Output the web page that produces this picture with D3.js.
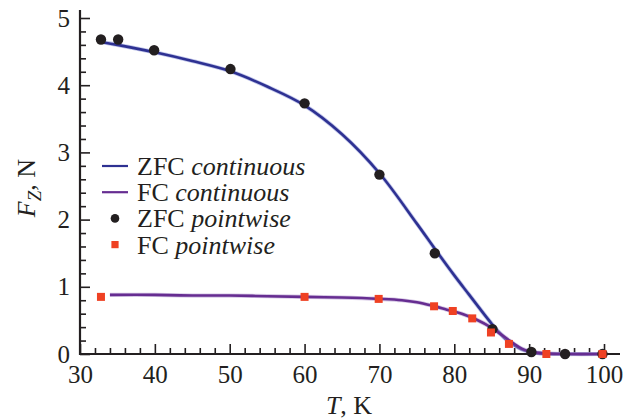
<!DOCTYPE html>
<html>
<head>
<meta charset="utf-8">
<script src="https://cdn.jsdelivr.net/npm/d3@7"></script>
<style>
  html, body { margin: 0; padding: 0; background: #fff; }
  svg { display: block; }
  svg text { font-family: "Liberation Serif", "DejaVu Serif", serif !important; fill: #231f20; }
</style>
</head>
<body>
<svg id="chart" width="632" height="419"></svg>
<script>
// Continuous ZFC measurement (temperature, K -> force, N)
const zfcContT = [33, 35, 40, 45, 50, 55, 60, 65, 70, 75, 77.5, 80, 82, 84, 85, 86, 87, 88, 89, 90, 91, 92, 94, 97, 100];
const zfcContF = [4.64, 4.60, 4.49, 4.36, 4.21, 3.98, 3.70, 3.27, 2.69, 1.94, 1.55, 1.17, 0.88, 0.59, 0.45, 0.32, 0.21, 0.13, 0.07, 0.035, 0.015, 0.005, 0.0, 0.0, 0.0];

// Continuous FC measurement
const fcContT = [34, 40, 45, 50, 55, 60, 65, 70, 73, 75, 77, 79, 81, 83, 85, 86, 87, 88, 89, 90, 91, 92, 95, 100];
const fcContF = [0.88, 0.88, 0.87, 0.87, 0.86, 0.85, 0.84, 0.82, 0.80, 0.77, 0.72, 0.66, 0.60, 0.51, 0.39, 0.31, 0.23, 0.15, 0.08, 0.04, 0.02, 0.01, 0.0, 0.0];

// Pointwise ZFC measurements
const zfcPtT = [32.8, 35.1, 39.9, 50.1, 60, 70, 77.4, 85.1, 90.3, 94.8, 99.8];
const zfcPtF = [4.68, 4.68, 4.52, 4.24, 3.73, 2.67, 1.50, 0.37, 0.03, 0.0, 0.0];

// Pointwise FC measurements
const fcPtT = [32.8, 60, 69.9, 77.3, 79.8, 82.4, 84.9, 87.3, 92.3, 99.8];
const fcPtF = [0.85, 0.85, 0.82, 0.71, 0.64, 0.53, 0.32, 0.15, 0.0, 0.0];

// Axis ticks
const xMajor = [30, 40, 50, 60, 70, 80, 90, 100];
const xMinor = d3.range(32, 100, 2).filter(v => v % 10 !== 0);
const yMajor = [0, 1, 2, 3, 4, 5];
const yMinor = d3.range(0.2, 5, 0.2).filter(v => Math.abs(v - Math.round(v)) > 1e-6);

const legendItems = [
  { name: "ZFC", mode: "continuous", kind: "line", color: "#2e3192" },
  { name: "FC", mode: "continuous", kind: "line", color: "#662d91" },
  { name: "ZFC", mode: "pointwise", kind: "dot", color: "#231f20" },
  { name: "FC", mode: "pointwise", kind: "square", color: "#ef4123" }
];

const svg = d3.select("#chart");
const ink = "#231f20";
const serif = "'Liberation Serif', 'DejaVu Serif', serif";

const x = d3.scaleLinear().domain([30, 100]).range([80, 604]);
const y = d3.scaleLinear().domain([0, 5]).range([354, 18]);

// Axes: ticks point inward
const gx = svg.append("g").attr("transform", `translate(0,${y(0)})`);
gx.call(d3.axisBottom(x).tickValues(xMinor).tickSize(-6).tickFormat(""));
gx.call(g => g.select(".domain").remove());
const gxMajor = svg.append("g").attr("transform", `translate(0,${y(0)})`)
  .call(d3.axisBottom(x).tickValues(xMajor).tickSize(-10).tickPadding(11).tickFormat(d3.format("d")));
gxMajor.select(".domain").remove();

const gy = svg.append("g").attr("transform", `translate(${x(30)},0)`);
gy.call(d3.axisLeft(y).tickValues(yMinor).tickSize(-6).tickFormat(""));
gy.call(g => g.select(".domain").remove());
const gyMajor = svg.append("g").attr("transform", `translate(${x(30)},0)`)
  .call(d3.axisLeft(y).tickValues(yMajor).tickSize(-10).tickPadding(10).tickFormat(d3.format("d")));
gyMajor.select(".domain").remove();

svg.selectAll("g").attr("font-family", null);
svg.selectAll(".tick line").attr("stroke", ink).attr("stroke-width", 1.6);
svg.selectAll(".tick text")
  .style("font-family", serif)
  .attr("font-size", 25)
  .attr("fill", ink);

// Axis lines
svg.append("line")
  .attr("x1", x(30)).attr("x2", x(100) + 16)
  .attr("y1", y(0)).attr("y2", y(0))
  .attr("stroke", ink).attr("stroke-width", 2.2);
svg.append("line")
  .attr("x1", x(30)).attr("x2", x(30))
  .attr("y1", y(0) + 1).attr("y2", y(5) - 8)
  .attr("stroke", ink).attr("stroke-width", 2.2);

// Continuous curves
const line = d3.line().x(d => x(d[0])).y(d => y(d[1])).curve(d3.curveCatmullRom.alpha(0.5));
const zfcCont = zfcContT.map((t, i) => [t, zfcContF[i]]);
const fcCont = fcContT.map((t, i) => [t, fcContF[i]]);

function drawCurve(data, color, halo) {
  svg.append("path").datum(data).attr("d", line)
    .attr("fill", "none").attr("stroke", halo).attr("stroke-width", 4.2)
    .attr("stroke-opacity", 0.55);
  svg.append("path").datum(data).attr("d", line)
    .attr("fill", "none").attr("stroke", color).attr("stroke-width", 2.6)
    .attr("stroke-linejoin", "round");
}
drawCurve(zfcCont, legendItems[0].color, "#8e97d8");
drawCurve(fcCont, legendItems[1].color, "#b59ad0");

// Pointwise markers
svg.append("g").selectAll("circle")
  .data(zfcPtT.map((t, i) => [t, zfcPtF[i]]))
  .join("circle")
  .attr("cx", d => x(d[0])).attr("cy", d => y(d[1])).attr("r", 5.2)
  .attr("fill", legendItems[2].color);

const sq = 8;
svg.append("g").selectAll("rect")
  .data(fcPtT.map((t, i) => [t, fcPtF[i]]))
  .join("rect")
  .attr("x", d => x(d[0]) - sq / 2).attr("y", d => y(d[1]) - sq / 2)
  .attr("width", sq).attr("height", sq)
  .attr("fill", legendItems[3].color);

// Legend
const legend = svg.append("g");
const rowY = i => 166 + i * 26.2;
legendItems.forEach((item, i) => {
  const cy = rowY(i);
  if (item.kind === "line") {
    legend.append("line").attr("x1", 102).attr("x2", 128).attr("y1", cy).attr("y2", cy)
      .attr("stroke", item.color).attr("stroke-width", 2.2);
  } else if (item.kind === "dot") {
    legend.append("circle").attr("cx", 115).attr("cy", cy).attr("r", 4.3).attr("fill", item.color);
  } else {
    legend.append("rect").attr("x", 115 - 3.6).attr("y", cy - 3.6).attr("width", 7.2).attr("height", 7.2)
      .attr("fill", item.color);
  }
  const t = legend.append("text").attr("x", 137).attr("y", cy + 9)
    .style("font-family", serif).attr("font-size", 26);
  t.append("tspan").text(item.name + " ");
  t.append("tspan").attr("font-style", "italic").text(item.mode);
});

// Axis titles
const yt = svg.append("text")
  .attr("transform", `translate(35,188) rotate(-90)`)
  .style("font-family", serif)
  .attr("text-anchor", "middle").attr("font-size", 26);
yt.append("tspan").attr("font-style", "italic").text("F");
yt.append("tspan").attr("font-style", "italic").attr("font-size", 19).attr("dy", 6).text("Z");
yt.append("tspan").attr("dy", -6).text(", N");

const xt = svg.append("text")
  .attr("x", 349).attr("y", 414)
  .style("font-family", serif)
  .attr("text-anchor", "middle").attr("font-size", 26);
xt.append("tspan").attr("font-style", "italic").text("T");
xt.append("tspan").text(", K");
</script>
</body>
</html>
